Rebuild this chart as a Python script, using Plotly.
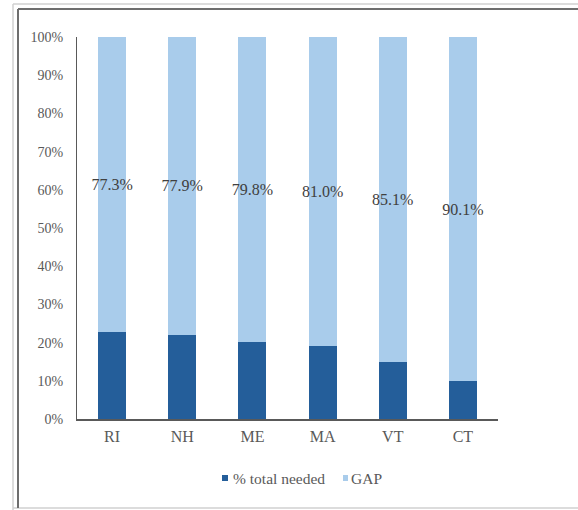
import plotly.graph_objects as go

states = ["RI", "NH", "ME", "MA", "VT", "CT"]
gap = [77.3, 77.9, 79.8, 81.0, 85.1, 90.1]
needed = [round(100 - g, 1) for g in gap]
gap_labels = [f"{g:.1f}%" for g in gap]
ytick_vals = list(range(0, 101, 10))
ytick_text = [f"{v}%" for v in ytick_vals]
series_names = ["% total needed", "GAP"]

FONT = "Liberation Serif, Times New Roman, serif"
DARK_BLUE = "#245E9A"
LIGHT_BLUE = "#A9CCEB"
W, H = 578, 510
L, R, T, B = 77, 80, 37, 91
pw, ph = W - L - R, H - T - B

fig = go.Figure()
fig.add_trace(go.Bar(x=states, y=needed, name=series_names[0],
                     marker=dict(color=DARK_BLUE, line=dict(width=0)),
                     hoverinfo="skip", showlegend=False))
fig.add_trace(go.Bar(x=states, y=gap, name=series_names[1],
                     marker=dict(color=LIGHT_BLUE, line=dict(width=0)),
                     text=gap_labels, textposition="inside", textangle=0,
                     insidetextanchor="middle", constraintext="none",
                     textfont=dict(family=FONT, size=16, color="#404040"),
                     hoverinfo="skip", showlegend=False))

def px_x(p):
    return (p - L) / pw

def px_y(p):
    return (H - B - p) / ph

shapes = []
light = "#D0D0D0"
dark = "#6E6E6E"
shapes.append(dict(type="line", xref="paper", yref="paper", x0=px_x(13), x1=px_x(13), y0=px_y(4), y1=px_y(510), line=dict(color=light, width=1.5)))
shapes.append(dict(type="line", xref="paper", yref="paper", x0=px_x(13), x1=px_x(578), y0=px_y(4), y1=px_y(4), line=dict(color=light, width=1.5)))
shapes.append(dict(type="line", xref="paper", yref="paper", x0=px_x(13), x1=px_x(578), y0=px_y(508), y1=px_y(508), line=dict(color=light, width=1.5)))
shapes.append(dict(type="line", xref="paper", yref="paper", x0=px_x(18), x1=px_x(18), y0=px_y(9), y1=px_y(508), line=dict(color=dark, width=2)))
shapes.append(dict(type="line", xref="paper", yref="paper", x0=px_x(18), x1=px_x(578), y0=px_y(9), y1=px_y(9), line=dict(color=dark, width=2)))
# legend squares
for (x0, x1), col in [((222, 228), DARK_BLUE), ((343, 348), LIGHT_BLUE)]:
    shapes.append(dict(type="rect", xref="paper", yref="paper",
                       x0=px_x(x0), x1=px_x(x1), y0=px_y(481), y1=px_y(475),
                       fillcolor=col, line=dict(width=0)))

annotations = [
    dict(text=series_names[0], xref="paper", yref="paper", x=px_x(231), y=px_y(478),
         xanchor="left", yanchor="middle", showarrow=False,
         font=dict(family=FONT, size=15.5, color="#595959")),
    dict(text=series_names[1], xref="paper", yref="paper", x=px_x(349), y=px_y(478),
         xanchor="left", yanchor="middle", showarrow=False,
         font=dict(family=FONT, size=15.5, color="#595959")),
]

fig.update_layout(
    width=W, height=H,
    margin=dict(l=L, r=R, t=T, b=B),
    barmode="stack", bargap=0.6,
    plot_bgcolor="white", paper_bgcolor="white",
    font=dict(family=FONT, size=13, color="#595959"),
    uniformtext=dict(minsize=13, mode="show"),
    xaxis=dict(showgrid=False, showline=True, linecolor="#595959", linewidth=1.5,
               ticks="", ticklabelstandoff=2,
               tickfont=dict(family=FONT, size=16, color="#595959")),
    yaxis=dict(range=[0, 100], tickvals=ytick_vals, ticktext=ytick_text,
               showgrid=False, showline=True, linecolor="#595959", linewidth=1,
               ticks="", zeroline=False, ticklabelstandoff=10,
               tickfont=dict(family=FONT, size=14, color="#595959")),
    showlegend=False,
    shapes=shapes,
    annotations=annotations,
)

fig.write_html("out.html", config={"displayModeBar": False},
               post_script="document.body.style.margin='0';")
